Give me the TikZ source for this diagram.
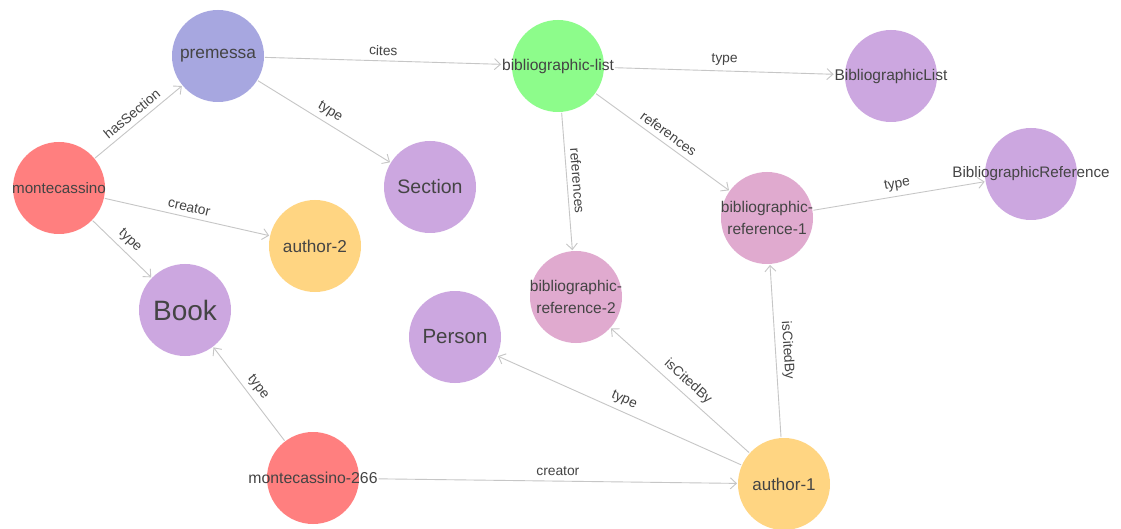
\documentclass[tikz,border=0pt]{standalone}
\usepackage{fontspec}
\setmainfont{Liberation Sans}
\usetikzlibrary{arrows.meta}
\definecolor{cRed}{HTML}{FF7F7F}
\definecolor{cPurple}{HTML}{CCA7E0}
\definecolor{cLav}{HTML}{A7A7E0}
\definecolor{cGreen}{HTML}{8DFC8B}
\definecolor{cPink}{HTML}{E0AACF}
\definecolor{cYellow}{HTML}{FFD582}
\definecolor{cText}{HTML}{444444}
\definecolor{cEdge}{HTML}{C6C6C6}
\newcommand{\fs}[1]{\fontsize{#1}{22}\selectfont}
\begin{document}
\begin{tikzpicture}[x=1pt,y=-1pt,
  circ/.style={circle,minimum size=92pt,inner sep=0pt,outer sep=1pt,draw=none,fill=#1},
  txt/.style={inner sep=0pt,outer sep=1pt,text=cText,align=center},
  edge/.style={draw=cEdge,line width=0.9pt,-{Straight Barb[length=6pt,width=11pt,line width=0.9pt]}},
  lbl/.style={midway,sloped,above=4pt,inner sep=1pt,text=cText,font=\fontsize{13.8}{16}\selectfont}]
\useasboundingbox (0,0) rectangle (1121,529);
\clip (0,0) rectangle (1121,529);
\fill[white] (0,0) rectangle (1121,529);
% circles
\node[circ=cLav]    (pre) at (218,56) {};
\node[circ=cGreen]  (bl)  at (558,66) {};
\node[circ=cPurple] (BL)  at (891,76) {};
\node[circ=cRed]    (mc)  at (59,188) {};
\node[circ=cPurple] (sec) at (430,187) {};
\node[circ=cPurple] (BR)  at (1031,174) {};
\node[circ=cPink]   (br1) at (767,218) {};
\node[circ=cYellow] (a2)  at (315,246) {};
\node[circ=cPurple] (book) at (185,310) {};
\node[circ=cPink]   (br2) at (576,297) {};
\node[circ=cPurple] (per) at (455,337) {};
\node[circ=cRed]    (mc266) at (313,478) {};
\node[circ=cYellow] (a1)  at (784,484) {};
% texts
\node[txt,font=\fs{17.3}] (preT) at (pre) {premessa};
\node[txt,font=\fs{15.6}] (blT) at (bl) {bibliographic-list};
\node[txt,font=\fs{15.5}] (BLT) at (BL) {BibliographicList};
\node[txt,font=\fs{15.2}] (mcT) at (mc) {montecassino};
\node[txt,font=\fs{19.5}] (secT) at (sec) {Section};
\node[txt,font=\fs{15.2}] (BRT) at (BR) {BibliographicReference};
\node[txt,font=\fs{15.5}] (br1T) at (br1) {bibliographic-\\reference-1};
\node[txt,font=\fs{17.2}] (a2T) at (a2) {author-2};
\node[txt,font=\fs{28}] (bookT) at (book) {Book};
\node[txt,font=\fs{15.5}] (br2T) at (br2) {bibliographic-\\reference-2};
\node[txt,font=\fs{20.5}] (perT) at (per) {Person};
\node[txt,font=\fs{15.8}] (mc266T) at (mc266) {montecassino-266};
\node[txt,font=\fs{17}] (a1T) at (a1) {author-1};
% edges
\draw[edge] (mc) -- node[lbl]{hasSection} (pre);
\draw[edge] (pre) -- node[lbl]{cites} (blT);
\draw[edge] (pre) -- node[lbl]{type} (sec);
\draw[edge] (mc) -- node[lbl]{creator} (a2);
\draw[edge] (mc) -- node[lbl]{type} (book);
\draw[edge] (blT) -- node[lbl]{type} (BLT);
\draw[edge] (bl) -- node[lbl]{references} (br2);
\draw[edge] (bl) -- node[lbl]{references} (br1);
\draw[edge] (br1) -- node[lbl]{type} (BR);
\draw[edge] (a1) -- node[lbl]{isCitedBy} (br1);
\draw[edge] (a1) -- node[lbl]{isCitedBy} (br2);
\draw[edge] (a1) -- node[lbl]{type} (per);
\draw[edge] (mc266T) -- node[lbl]{creator} (a1);
\draw[edge] (mc266) -- node[lbl]{type} (book);
\end{tikzpicture}
\end{document}
